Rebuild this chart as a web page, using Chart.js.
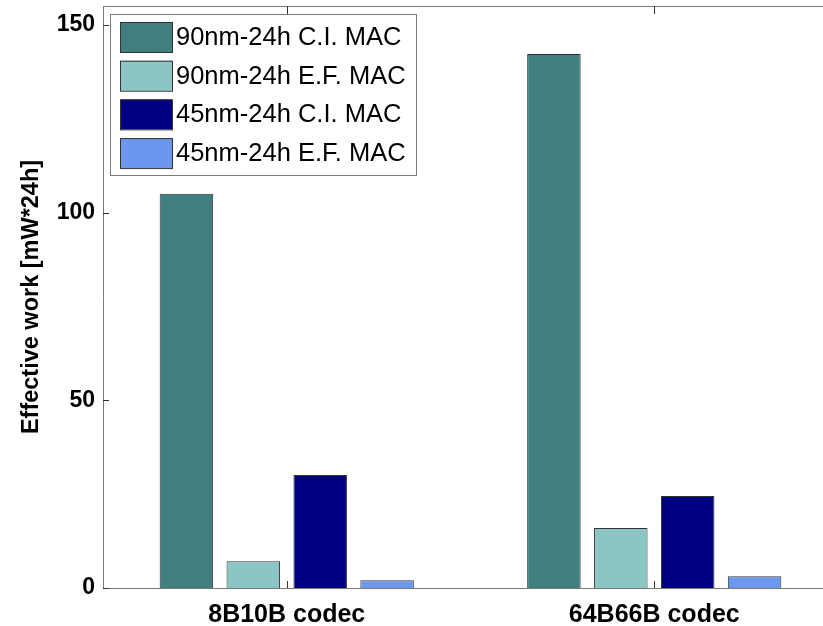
<!DOCTYPE html>
<html lang="en">
<head>
    <meta charset="UTF-8" />
    <title>Effective work</title>
    <style>
        html, body {
            margin: 0;
            padding: 0;
            background: #fff;
            overflow: hidden;
        }
        #chart-container {
            width: 850px;
            height: 626px;
        }
    </style>
    <script src="https://cdn.jsdelivr.net/npm/chart.js"></script>
</head>
<body>
<div id="chart-container">
    <canvas id="workChart" width="850" height="626"></canvas>
</div>

<script>
  const categories = ["8B10B codec", "64B66B codec"];
  const seriesNames = [
    "90nm-24h C.I. MAC",
    "90nm-24h E.F. MAC",
    "45nm-24h C.I. MAC",
    "45nm-24h E.F. MAC",
  ];
  const ci90 = [105, 142.2];
  const ef90 = [7.1, 16];
  const ci45 = [30.1, 24.5];
  const ef45 = [2.05, 3.1];
  const yTicks = [0, 50, 100, 150];

  const colors = ["#407f7f", "#8cc6c4", "#000080", "#6b98ee"];
  const FONT = "'Liberation Sans', Arial, sans-serif";
  const AXIS = "#7a7a7a";

  // MATLAB-style frame: top line, inward tick marks, boxed legend
  const framePlugin = {
    id: "frame",
    afterDraw(chart) {
      const ctx = chart.ctx;
      const area = chart.chartArea;
      const x = chart.scales.x;
      const y = chart.scales.y;
      ctx.save();
      ctx.strokeStyle = AXIS;
      ctx.lineWidth = 1;
      ctx.beginPath();
      ctx.moveTo(area.left, area.top + 0.5);
      ctx.lineTo(area.right, area.top + 0.5);
      ctx.stroke();

      ctx.strokeStyle = "#333";
      ctx.beginPath();
      y.ticks.forEach((t, i) => {
        const py = Math.round(y.getPixelForTick(i)) + 0.5;
        ctx.moveTo(area.left, py);
        ctx.lineTo(area.left + 6, py);
      });
      x.ticks.forEach((t, i) => {
        const px = Math.round(x.getPixelForTick(i)) + 0.5;
        ctx.moveTo(px, area.bottom);
        ctx.lineTo(px, area.bottom - 7);
        ctx.moveTo(px, area.top);
        ctx.lineTo(px, area.top + 8);
      });
      ctx.stroke();

      // legend
      const lx = 110, ly = 14, lw = 306, lh = 161;
      ctx.fillStyle = "#fff";
      ctx.fillRect(lx, ly, lw, lh);
      ctx.strokeStyle = AXIS;
      ctx.strokeRect(lx + 0.5, ly + 0.5, lw, lh);
      ctx.font = "25.5px " + FONT;
      ctx.textBaseline = "middle";
      chart.data.datasets.forEach((ds, i) => {
        const top = 22 + i * 38.7;
        ctx.fillStyle = ds.backgroundColor;
        ctx.fillRect(120, top, 52, 30);
        ctx.strokeStyle = "#333";
        ctx.strokeRect(120.5, top + 0.5, 52, 30);
        ctx.fillStyle = "#000";
        ctx.fillText(ds.label, 176, top + 16);
      });
      ctx.restore();
    },
  };

  function noPad(scale) {
    scale.paddingTop = 0;
    scale.paddingBottom = 0;
    scale.paddingLeft = 0;
    scale.paddingRight = 0;
  }

  const series = [ci90, ef90, ci45, ef45];
  const ctx = document.getElementById("workChart").getContext("2d");
  new Chart(ctx, {
    type: "bar",
    data: {
      labels: categories,
      datasets: series.map((vals, i) => ({
        label: seriesNames[i],
        data: vals,
        backgroundColor: colors[i],
        borderColor: "#333",
        borderWidth: 1,
        categoryPercentage: 0.728,
        barPercentage: 0.8,
      })),
    },
    options: {
      responsive: false,
      animation: false,
      layout: {
        padding: { top: 6, right: 12, left: 0, bottom: 0 },
      },
      scales: {
        x: {
          grid: { display: false, drawTicks: false, offset: false },
          border: { display: true, color: AXIS, width: 1 },
          ticks: {
            color: "#000",
            padding: 12,
            font: { family: FONT, size: 25, weight: "bold" },
          },
          afterFit(scale) {
            scale.height = 38;
            noPad(scale);
          },
        },
        y: {
          min: 0,
          max: 155,
          grid: { display: false, drawTicks: false },
          border: { display: true, color: AXIS, width: 1 },
          afterBuildTicks(scale) {
            scale.ticks = yTicks.map((v) => ({ value: v }));
          },
          ticks: {
            color: "#000",
            padding: 8,
            font: { family: FONT, size: 23, weight: "bold" },
          },
          title: {
            display: true,
            text: "Effective work [mW*24h]",
            color: "#000",
            padding: { top: 17, bottom: 0 },
            font: { family: FONT, size: 23.5, weight: "bold" },
          },
          afterFit(scale) {
            scale.width = 103;
            noPad(scale);
          },
        },
      },
      plugins: {
        legend: { display: false },
        tooltip: { enabled: false },
      },
    },
    plugins: [framePlugin],
  });
</script>
</body>
</html>
